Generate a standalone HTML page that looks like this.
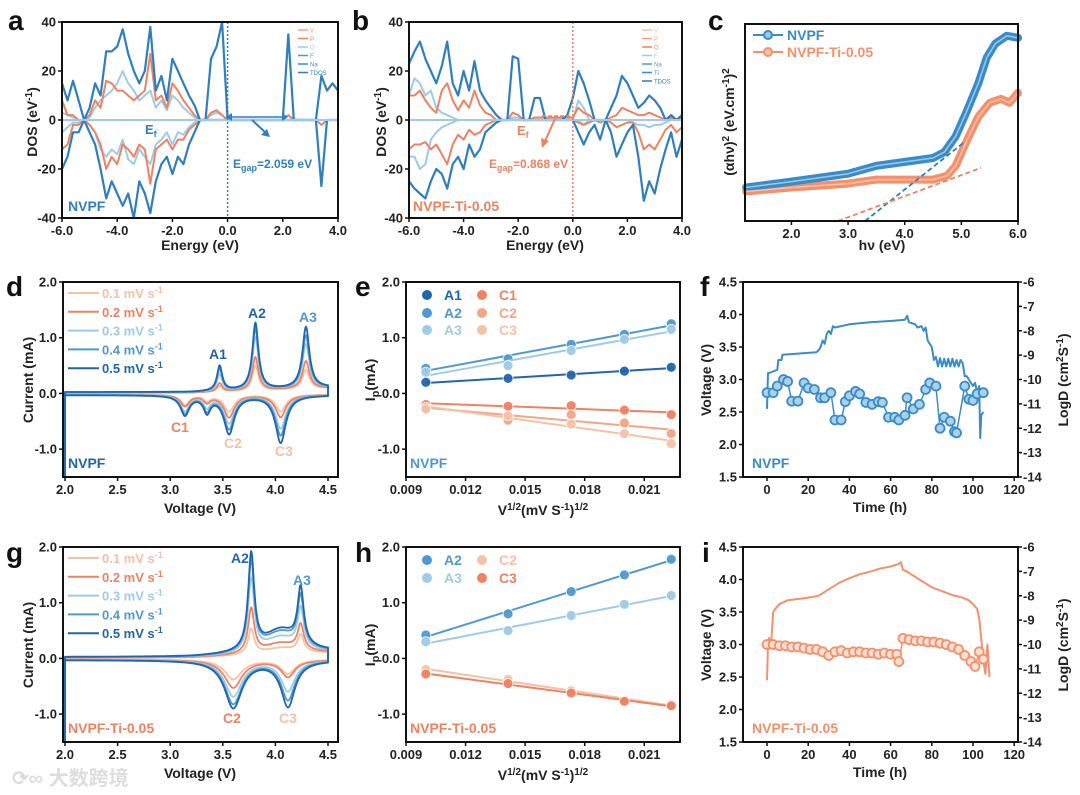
<!DOCTYPE html>
<html><head><meta charset="utf-8"><style>
html,body{margin:0;padding:0;background:#fff;}
svg{display:block;font-family:"Liberation Sans","Noto Sans CJK SC",sans-serif;}
.t{font-weight:bold;font-size:14px;fill:#222;}
.L{font-weight:bold;font-size:28px;fill:#111;}
</style></head><body>
<svg id="fig" width="1080" height="795" viewBox="0 0 1080 795">
<rect x="0" y="0" width="1080" height="795" fill="#fff"/>
<text class="L" x="8" y="30">a</text>
<text class="L" x="352" y="30">b</text>
<text class="L" x="708" y="30">c</text>
<text class="L" x="6" y="296">d</text>
<text class="L" x="355" y="296">e</text>
<text class="L" x="700" y="296">f</text>
<text class="L" x="6" y="562">g</text>
<text class="L" x="355" y="562">h</text>
<text class="L" x="702" y="562">i</text>
<text class="t" transform="translate(37,122) rotate(-90)" text-anchor="middle">DOS (eV<tspan dy="-5" font-size="10">-1</tspan><tspan dy="5">)</tspan></text>
<text class="t" transform="translate(386,122) rotate(-90)" text-anchor="middle">DOS (eV<tspan dy="-5" font-size="10">-1</tspan><tspan dy="5">)</tspan></text>
<text class="t" transform="translate(734,122) rotate(-90)" text-anchor="middle">(αhν)<tspan dy="-5" font-size="10">2</tspan><tspan dy="5"> (eV.cm</tspan><tspan dy="-5" font-size="10">-1</tspan><tspan dy="5">)</tspan><tspan dy="-5" font-size="10">2</tspan></text>
<text class="t" transform="translate(33,380) rotate(-90)" text-anchor="middle">Current (mA)</text>
<text class="t" transform="translate(375,380) rotate(-90)" text-anchor="middle">I<tspan dy="4" font-size="11">p</tspan><tspan dy="-4">(mA)</tspan></text>
<text class="t" transform="translate(711,380) rotate(-90)" text-anchor="middle">Voltage (V)</text>
<text class="t" transform="translate(1068,380) rotate(-90)" text-anchor="middle">LogD (cm<tspan dy="-5" font-size="10">2</tspan><tspan dy="5">S</tspan><tspan dy="-5" font-size="10">-1</tspan><tspan dy="5">)</tspan></text>
<text class="t" transform="translate(33,645) rotate(-90)" text-anchor="middle">Current (mA)</text>
<text class="t" transform="translate(375,645) rotate(-90)" text-anchor="middle">I<tspan dy="4" font-size="11">p</tspan><tspan dy="-4">(mA)</tspan></text>
<text class="t" transform="translate(711,645) rotate(-90)" text-anchor="middle">Voltage (V)</text>
<text class="t" transform="translate(1068,645) rotate(-90)" text-anchor="middle">LogD (cm<tspan dy="-5" font-size="10">2</tspan><tspan dy="5">S</tspan><tspan dy="-5" font-size="10">-1</tspan><tspan dy="5">)</tspan></text>
<text class="t" x="200" y="250" text-anchor="middle">Energy (eV)</text>
<text class="t" x="545" y="250" text-anchor="middle">Energy (eV)</text>
<text class="t" x="882" y="250" text-anchor="middle">hν (eV)</text>
<text class="t" x="200" y="513" text-anchor="middle">Voltage (V)</text>
<text class="t" x="543" y="515" text-anchor="middle">V<tspan dy="-5" font-size="10">1/2</tspan><tspan dy="5">(mV S</tspan><tspan dy="-5" font-size="10">-1</tspan><tspan dy="5">)</tspan><tspan dy="-5" font-size="10">1/2</tspan></text>
<text class="t" x="880" y="512" text-anchor="middle">Time (h)</text>
<text class="t" x="200" y="778" text-anchor="middle">Voltage (V)</text>
<text class="t" x="543" y="780" text-anchor="middle">V<tspan dy="-5" font-size="10">1/2</tspan><tspan dy="5">(mV S</tspan><tspan dy="-5" font-size="10">-1</tspan><tspan dy="5">)</tspan><tspan dy="-5" font-size="10">1/2</tspan></text>
<text class="t" x="880" y="777" text-anchor="middle">Time (h)</text>
<text x="12" y="785" font-size="20" fill="#ddd" font-weight="bold">⟳∞ 大数跨境</text>
</svg>
<script>
const dosE=[-6.0,-5.8,-5.6,-5.4,-5.2,-5.0,-4.8,-4.6,-4.4,-4.2,-4.0,-3.8,-3.6,-3.4,-3.2,-3.0,-2.8,-2.6,-2.4,-2.2,-2.0,-1.8,-1.6,-1.4,-1.2,-1.0,-0.8,-0.6,-0.4,-0.2,0.0,0.2,0.4,0.6,0.8,1.0,1.2,1.4,1.6,1.8,2.0,2.2,2.4,2.6,2.8,3.0,3.2,3.4,3.6,3.8,4.0];
const tdosUpA=[15,8,16,8,0,5,15,10,28,28,30,37,27,20,15,20,38,12,18,8,25,20,15,10,6,0,0,25,30,40,0,0,0,0,0,0,0,0,0,0,0,35,0,0,0,0,0,18,12,15,12];
const tdosDnA=[-20,-15,-5,-5,0,-5,-10,-20,-32,-25,-30,-35,-30,-40,-25,-30,-38,-25,-18,-15,-22,-15,-18,-10,-5,0,0,0,0,0,0,0,0,0,0,0,0,0,0,0,0,0,0,0,0,0,0,-27,0,0,0];
const oUpA=[8,2,2,0,0,2,8,5,16,15,12,12,10,8,10,12,27,8,10,5,15,12,8,5,2,0,0,3,4,2,0,0,0,0,0,0,0,0,0,0,0,2,0,0,0,0,0,0,0,0,0];
const oDnA=[-12,-10,-2,-2,0,-2,-5,-10,-20,-15,-18,-10,-12,-15,-10,-12,-26,-12,-10,-8,-12,-8,-8,-4,-2,0,0,0,0,0,0,0,0,0,0,0,0,0,0,0,0,0,0,0,0,0,0,-2,0,0,0];
const fUpA=[3,2,1,0,0,1,5,8,10,12,15,20,15,12,8,10,12,5,8,4,10,8,5,3,1,0,0,2,3,2,0,0,0,0,0,0,0,0,0,0,0,0,0,0,0,0,0,0,0,0,0];
const fDnA=[-5,-3,-1,-1,0,-2,-5,-12,-15,-12,-14,-8,-16,-18,-12,-15,-18,-10,-8,-5,-10,-5,-6,-3,-1,0,0,0,0,0,0,0,0,0,0,0,0,0,0,0,0,0,0,0,0,0,0,0,0,0,0];
const tdosUpB=[23,28,32,25,20,15,22,32,15,10,20,12,24,12,8,5,2,0,0,26,25,0,0,9,9,0,0,0,0,2,9,20,15,8,0,0,0,5,10,18,15,10,5,7,10,8,5,0,2,0,2];
const tdosDnB=[-25,-28,-30,-32,-25,-20,-22,-28,-18,-15,-20,-10,-15,-12,-5,-3,-1,0,0,0,0,0,0,0,0,0,0,0,0,0,0,-5,-10,-5,-2,-8,0,-5,-15,-10,-5,-2,-15,-33,-25,-30,-20,-12,-5,-15,-8];
const oUpB=[10,10,12,8,5,3,12,15,8,4,8,5,12,6,3,2,0,0,0,3,2,0,0,1,1,1,1,1,1,1,1,5,3,2,0,0,0,1,2,5,4,3,2,2,3,2,1,0,1,0,1];
const oDnB=[-12,-10,-10,-9,-12,-10,-14,-18,-10,-6,-8,-4,-6,-5,-2,-1,0,0,0,0,0,0,0,0,0,0,0,0,0,0,0,-1,-2,-1,0,-1,0,-1,-3,-2,-1,-1,-5,-12,-10,-12,-8,-4,-2,-5,-3];
const fUpB=[10,17,15,10,12,5,3,2,1,0,0,0,0,0,0,0,0,0,0,1,1,0,0,0,0,0,0,0,0,0,0,8,5,0,0,0,0,0,0,0,0,0,0,0,0,0,0,0,0,0,0];
const fDnB=[-15,-15,-20,-18,-8,-5,-3,-2,-1,0,0,0,0,0,0,0,0,0,0,0,0,0,0,0,0,0,0,0,0,0,0,0,-2,0,0,0,0,0,0,0,0,-1,-2,-2,-3,-2,-2,-1,0,0,0];
const dosXTicks=[-6,-4,-2,0,2,4];
const dosXLabels=["-6.0","-4.0","-2.0","0.0","2.0","4.0"];
const dosYTicks=[-40,-20,0,20,40];
const dosYLabels=["-40","-20","0","20","40"];

const uvE=[1.2,2.0,3.0,3.5,4.0,4.5,4.7,4.9,5.1,5.3,5.45,5.6,5.8,6.0];
const uvNVPF=[0.17,0.2,0.24,0.28,0.3,0.32,0.35,0.43,0.56,0.7,0.83,0.9,0.94,0.93];
const uvE2=[1.2,2.0,3.0,3.5,4.0,4.5,4.75,4.9,5.1,5.3,5.5,5.7,5.85,6.0];
const uvTi=[0.15,0.17,0.19,0.21,0.21,0.21,0.23,0.28,0.41,0.53,0.6,0.62,0.6,0.65];
const tangNVPF=[[3.3,0],[5.05,0.4]];
const tangTi=[[2.82,0],[5.35,0.27]];
const uvXTicks=[2,3,4,5,6];
const uvXLabels=["2.0","3.0","4.0","5.0","6.0"];

const rateLabels=["0.1","0.2","0.3","0.4","0.5"];
const dAnoP=[3.47,3.81,4.29];
const dAnoW=[0.03,0.035,0.04];
const dAnoH=[[0.1,0.15,0.3,0.4,0.45],[0.45,0.6,0.95,1.1,1.2],[0.35,0.5,0.8,0.95,1.1]];
const dCatP=[3.14,3.35,3.56,4.05];
const dCatW=[0.05,0.04,0.06,0.06];
const dCatH=[[-0.18,-0.2,-0.28,-0.32,-0.35],[-0.1,-0.12,-0.2,-0.25,-0.28],[-0.3,-0.4,-0.5,-0.6,-0.68],[-0.3,-0.4,-0.6,-0.72,-0.85]];
const gAnoP=[3.77,4.24,4.05];
const gAnoW=[0.035,0.035,0.2];
const gAnoH=[[0.45,0.8,1.3,1.6,1.72],[0.3,0.45,0.7,0.88,1.0],[0.12,0.2,0.3,0.38,0.42]];
const gCatP=[3.6,4.12];
const gCatW=[0.1,0.08];
const gCatH=[[-0.35,-0.5,-0.65,-0.78,-0.85],[-0.25,-0.3,-0.55,-0.7,-0.82]];
const cvXTicks=[2.0,2.5,3.0,3.5,4.0,4.5];
const cvXLabels=["2.0","2.5","3.0","3.5","4.0","4.5"];
const cvYTicks=[-1,0,1,2];
const cvYLabels=["-1.0","0.0","1.0","2.0"];

const sqrtV=[0.01,0.01414,0.01732,0.02,0.02236];
const eA1=[0.2,0.27,0.33,0.4,0.47];
const eA2=[0.45,0.62,0.88,1.06,1.25];
const eA3=[0.38,0.5,0.77,0.97,1.15];
const eC1=[-0.2,-0.23,-0.22,-0.3,-0.38];
const eC2=[-0.25,-0.48,-0.38,-0.53,-0.72];
const eC3=[-0.28,-0.4,-0.55,-0.72,-0.9];
const hA2=[0.42,0.8,1.2,1.5,1.78];
const hA3=[0.3,0.5,0.77,0.97,1.13];
const hC2=[-0.2,-0.38,-0.58,-0.75,-0.83];
const hC3=[-0.28,-0.45,-0.62,-0.77,-0.85];
const ipXTicks=[0.009,0.012,0.015,0.018,0.021];
const ipXLabels=["0.009","0.012","0.015","0.018","0.021"];

const fT=[0,0.5,1,5,5.5,7,7.5,24,25,26,27,28,29,30,31,32,33,40,50,60,67,68,69,72,73,75,76,77,78,79,80,81,82,83,84,85,86,87,88,89,90,91,92,93,94,95,96,97,100,101,102,103,103.5,104,105];
const fV=[2.55,3.1,3.1,3.15,3.3,3.3,3.38,3.42,3.45,3.5,3.6,3.55,3.7,3.75,3.7,3.82,3.8,3.85,3.88,3.9,3.92,3.98,3.88,3.85,3.8,3.82,3.75,3.8,3.6,3.55,3.5,3.3,3.35,3.2,3.33,3.2,3.32,3.2,3.32,3.2,3.32,3.2,3.3,3.2,3.3,3.25,3.05,3.05,2.9,2.95,2.8,2.9,2.1,2.45,2.5];
const fDt=[0,3,5,8,10,12,15,18,20,23,26,28,31,33,36,38,40,43,45,48,51,54,56,59,62,64,67,68,71,74,77,79,82,84,86,89,91,92,96,98,100,102,105];
const fDv=[-10.54,-10.54,-10.27,-10.0,-10.08,-10.89,-10.89,-10.14,-10.35,-10.41,-10.75,-10.75,-10.54,-11.66,-11.66,-10.91,-10.67,-10.49,-10.59,-10.94,-11.02,-10.91,-10.94,-11.55,-11.55,-11.66,-11.47,-10.75,-11.21,-11.02,-10.41,-10.14,-10.27,-12.0,-11.55,-11.71,-12.14,-12.19,-10.27,-10.81,-10.86,-10.59,-10.54];
const iT=[0,0.5,1,2,3,4,6,8,10,15,20,25,30,35,40,45,50,55,60,64,65,66,68,70,75,80,85,90,95,98,100,102,103,104,105,106,107,108];
const iV=[2.45,3.0,3.1,3.0,3.5,3.55,3.62,3.65,3.68,3.7,3.72,3.75,3.85,3.95,4.02,4.08,4.12,4.17,4.2,4.24,4.27,4.15,4.12,4.08,3.98,3.88,3.82,3.76,3.72,3.68,3.62,3.55,3.4,3.1,2.75,2.55,3.0,2.5];
const iDt=[0,3,6,9,12,15,18,21,24,27,30,33,36,39,42,45,48,51,54,57,60,63,64,66,69,72,75,78,81,84,87,90,93,96,99,101,103,105];
const iDv=[-10.0,-10.0,-10.05,-10.05,-10.1,-10.1,-10.15,-10.2,-10.2,-10.3,-10.45,-10.3,-10.25,-10.35,-10.3,-10.3,-10.35,-10.35,-10.4,-10.35,-10.4,-10.4,-10.7,-9.75,-9.8,-9.85,-9.85,-9.9,-9.9,-9.95,-10.0,-10.1,-10.2,-10.45,-10.7,-10.9,-10.3,-10.6];
const gittXTicks=[0,20,40,60,80,100,120];
const gittXLabels=["0","20","40","60","80","100","120"];
const gittVTicks=[1.5,2.0,2.5,3.0,3.5,4.0,4.5];
const gittVLabels=["1.5","2.0","2.5","3.0","3.5","4.0","4.5"];
const gittDTicks=[-14,-13,-12,-11,-10,-9,-8,-7,-6];
const gittDLabels=["-14","-13","-12","-11","-10","-9","-8","-7","-6"];

const NS='http://www.w3.org/2000/svg';
const svg=document.getElementById('fig');
const BLUE='#2f7fbf',DBLUE='#2166ac',LBLUE='#9fcbe6',MBLUE='#4e9ad0',OR='#ee8262',PEACH='#f6c1a6';
const RATEC=[PEACH,OR,LBLUE,MBLUE,DBLUE];
function mk(tag,attrs,name){
  const e=document.createElementNS(NS,tag);
  for(const k in attrs)e.setAttribute(k,attrs[k]);
  
  
  svg.appendChild(e);return e;
}
function lin(d0,d1,r0,r1){return v=>r0+(v-d0)*(r1-r0)/(d1-d0);}
function txt(x,y,s,o,name){
  const e=mk('text',Object.assign({x:x,y:y,'font-weight':'bold','font-size':13,fill:'#222'},o||{}),name);
  e.textContent=s;return e;
}
function poly(pts,color,w,name,extra){
  return mk('polyline',Object.assign({points:pts.map(p=>p[0].toFixed(1)+','+p[1].toFixed(1)).join(' '),fill:'none',stroke:color,'stroke-width':w,'stroke-linejoin':'round'},extra||{}),name);
}
function axes(id,box,xs,xt,xl,ys,yt,yl){
  mk('rect',{x:box[0],y:box[1],width:box[2]-box[0],height:box[3]-box[1],fill:'none',stroke:'#111','stroke-width':2},'plot-frame-'+id);
  xt.forEach((v,i)=>{const x=xs(v);
    mk('line',{x1:x,x2:x,y1:box[3],y2:box[3]+4,stroke:'#111','stroke-width':1.5},'x-tick-'+id);
    txt(x,box[3]+17,xl[i],{'text-anchor':'middle'},'x-tick-label-'+id);});
  if(yt)yt.forEach((v,i)=>{const y=ys(v);
    mk('line',{x1:box[0]-4,x2:box[0],y1:y,y2:y,stroke:'#111','stroke-width':1.5},'y-tick-'+id);
    txt(box[0]-6,y+4.5,yl[i],{'text-anchor':'end'},'y-tick-label-'+id);});
}

function dosPanel(id,box,up,dn,oU,oD,fU,fD,gapColor,legend){
  const xs=lin(-6,4,box[0],box[2]), ys=lin(-40,40,box[3],box[1]);
  const cl=s=>s.map((v,i)=>[xs(dosE[i]),Math.max(box[1],Math.min(box[3],ys(v)))]);
  poly(cl(fU),LBLUE,2,'f-pdos-up-'+id);poly(cl(fD),LBLUE,2,'f-pdos-down-'+id);
  poly(cl(oU),OR,2,'o-pdos-up-'+id);poly(cl(oD),OR,2,'o-pdos-down-'+id);
  poly(cl(up),BLUE,2.2,'tdos-up-'+id);poly(cl(dn),BLUE,2.2,'tdos-down-'+id);
  mk('line',{x1:box[0],x2:box[2],y1:ys(0),y2:ys(0),stroke:LBLUE,'stroke-width':2},'zero-line-'+id);
  mk('line',{x1:xs(0),x2:xs(0),y1:box[1],y2:box[3],stroke:gapColor,'stroke-width':1.5,'stroke-dasharray':'2,2'},'fermi-level-line-'+id);
  axes(id,box,xs,dosXTicks,dosXLabels,ys,dosYTicks,dosYLabels);
  const lc=[PEACH,'#f3a07e',OR,LBLUE,MBLUE,'#3d8ac5',BLUE];
  legend.forEach((s,i)=>{const y=box[1]+8+i*8.5;
    mk('line',{x1:box[2]-40,x2:box[2]-30,y1:y,y2:y,stroke:lc[i+(7-legend.length)],'stroke-width':1.5},'legend-line-'+id);
    txt(box[2]-28,y+2.5,s,{'font-size':6,'font-weight':'normal',fill:lc[i+(7-legend.length)]},'legend-label-'+id);});
  return xs;
}
dosPanel('a',[62,22,338,218],tdosUpA,tdosDnA,oUpA,oDnA,fUpA,fDnA,BLUE,['V','P','O','F','Na','TDOS']);
dosPanel('b',[409,22,682,218],tdosUpB,tdosDnB,oUpB,oDnB,fUpB,fDnB,OR,['V','P','O','F','Na','Ti','TDOS']);
mk('line',{x1:232,x2:282,y1:117,y2:117,stroke:BLUE,'stroke-width':1.5},'gap-arrow-a');
mk('path',{d:'M232,113 L232,121 L226,117Z M282,113 L282,121 L288,117Z',fill:BLUE},'gap-arrow-heads-a');
mk('path',{d:'M252,120 L266,133',stroke:BLUE,'stroke-width':2,fill:'none'},'pointer-arrow-a');
mk('path',{d:'M270,137 L261,135 L267,129Z',fill:BLUE},'pointer-arrow-head-a');
txt(145,134,'',{fill:BLUE,'font-size':13},'fermi-label-a').innerHTML='E<tspan dy="3" font-size="9">f</tspan>';
txt(233,168,'',{fill:BLUE,'font-size':12},'gap-label-a').innerHTML='E<tspan dy="3" font-size="9">gap</tspan><tspan dy="-3">=2.059 eV</tspan>';
txt(68,211,'NVPF',{fill:BLUE,'font-size':14},'sample-label-a');
mk('line',{x1:542,x2:570,y1:116,y2:116,stroke:OR,'stroke-width':1.5,'stroke-dasharray':'4,2'},'gap-arrow-b');
mk('path',{d:'M555,119 L545,141',stroke:OR,'stroke-width':2,fill:'none'},'pointer-arrow-b');
mk('path',{d:'M542,148 L541,138 L549,141Z',fill:OR},'pointer-arrow-head-b');
txt(517,135,'',{fill:OR,'font-size':13},'fermi-label-b').innerHTML='E<tspan dy="3" font-size="9">f</tspan>';
txt(489,168,'',{fill:OR,'font-size':12},'gap-label-b').innerHTML='E<tspan dy="3" font-size="9">gap</tspan><tspan dy="-3">=0.868 eV</tspan>';
txt(413,211,'NVPF-Ti-0.05',{fill:OR,'font-size':14},'sample-label-b');

{
  const box=[745,24,1018,221];
  const xs=lin(1.18,6,box[0],box[2]), ys=lin(0,1,box[3],box[1]);
  poly(uvE2.map((e,i)=>[xs(e),ys(uvTi[i])]),'#f4906c',8,'tauc-curve-nvpf-ti',{'stroke-linecap':'round'});
  poly(uvE.map((e,i)=>[xs(e),ys(uvNVPF[i])]),'#3a8cc6',8,'tauc-curve-nvpf',{'stroke-linecap':'round'});
  poly(uvE2.map((e,i)=>[xs(e),ys(uvTi[i])]),'#fbc2ab',1.5,'tauc-curve-nvpf-ti-highlight');
  poly(uvE.map((e,i)=>[xs(e),ys(uvNVPF[i])]),'#9cc9e8',1.5,'tauc-curve-nvpf-highlight');
  poly(tangNVPF.map(p=>[xs(p[0]),ys(p[1])]),'#2f7fbf',1.8,'tangent-nvpf',{'stroke-dasharray':'5,3'});
  poly(tangTi.map(p=>[xs(p[0]),ys(p[1])]),OR,1.8,'tangent-nvpf-ti',{'stroke-dasharray':'5,3'});
  axes('c',box,xs,uvXTicks,uvXLabels,ys,null,null);
  mk('line',{x1:753,x2:783,y1:35,y2:35,stroke:'#3a8cc6','stroke-width':2},'legend-line-nvpf');
  mk('circle',{cx:768,cy:35,r:4,fill:'#9cc9e8',stroke:'#3a8cc6','stroke-width':2},'legend-marker-nvpf');
  txt(787,40,'NVPF',{fill:'#3a8cc6','font-size':14},'legend-label-nvpf');
  mk('line',{x1:753,x2:783,y1:52,y2:52,stroke:'#f4906c','stroke-width':2},'legend-line-nvpf-ti');
  mk('circle',{cx:768,cy:52,r:4,fill:'#fbc2ab',stroke:'#f4906c','stroke-width':2},'legend-marker-nvpf-ti');
  txt(787,57,'NVPF-Ti-0.05',{fill:'#f4906c','font-size':14},'legend-label-nvpf-ti');
}

function cvPanel(id,box,aP,aW,aH,cP,cW,cH,sample,sampleColor){
  const xs=lin(2,4.5,65,328), ys=lin(-1.5,2,box[3],box[1]);
  const L=(v,p,w)=>1/(1+((v-p)/w)*((v-p)/w));
  for(let k=0;k<5;k++){
    const pts=[[xs(2.0),ys(-1.5)],[xs(2.0),ys(-0.02)]];
    for(let v=2.0;v<=4.5001;v+=0.005){
      let c=0.01+0.015*k/4+0.08*Math.max(0,(v-3.2)/1.3);
      aP.forEach((p,j)=>{c+=aH[j][k]*L(v,p,aW[j]);});
      pts.push([xs(v),ys(c)]);
    }
    for(let v=4.5;v>=1.9999;v-=0.005){
      let c=-0.02-0.01*k/4;
      cP.forEach((p,j)=>{c+=cH[j][k]*L(v,p,cW[j]);});
      pts.push([xs(v),ys(c)]);
    }
    poly(pts,RATEC[k],1.8,'cv-curve-'+rateLabels[k]+'-'+id);
  }
  axes(id,box,xs,cvXTicks,cvXLabels,ys,cvYTicks,cvYLabels);
  rateLabels.forEach((r,i)=>{const y=box[1]+11+i*18.8;
    mk('line',{x1:68,x2:99,y1:y,y2:y,stroke:RATEC[i],'stroke-width':2},'legend-line-'+id);
    txt(102,y+5,'',{fill:RATEC[i],'font-size':13},'legend-label-'+id).innerHTML=r+' mV s<tspan dy="-5" font-size="9">-1</tspan>';});
  txt(68,box[3]-9,sample,{fill:sampleColor,'font-size':14},'sample-label-'+id);
}
cvPanel('d',[63,282,338,477],dAnoP,dAnoW,dAnoH,dCatP,dCatW,dCatH,'NVPF',DBLUE);
cvPanel('g',[63,547,338,742],gAnoP,gAnoW,gAnoH,gCatP,gCatW,gCatH,'NVPF-Ti-0.05',OR);
[['A1',218,359,DBLUE],['A2',257,318,DBLUE],['A3',308,322,MBLUE],['C1',180,432,OR],['C2',233,448,PEACH],['C3',284,456,PEACH]].forEach(a=>txt(a[1],a[2],a[0],{fill:a[3],'font-size':14,'text-anchor':'middle'},'peak-label-'+a[0].toLowerCase()+'-d'));
[['A2',240,563,DBLUE],['A3',302,585,MBLUE],['C2',232,723,OR],['C3',288,723,PEACH]].forEach(a=>txt(a[1],a[2],a[0],{fill:a[3],'font-size':14,'text-anchor':'middle'},'peak-label-'+a[0].toLowerCase()+'-g'));

function ipPanel(id,box,series,cols,names,sample,sampleColor,legPos){
  const xs=lin(0.009,0.0228,box[0],box[2]), ys=lin(-1.5,2,box[3],box[1]);
  series.forEach((s,j)=>{
    const n=s.length,mx=sqrtV.reduce((a,b)=>a+b)/n,my=s.reduce((a,b)=>a+b)/n;
    let sxy=0,sxx=0;sqrtV.forEach((x,i)=>{sxy+=(x-mx)*(s[i]-my);sxx+=(x-mx)*(x-mx);});
    const b=sxy/sxx,a=my-b*mx;
    poly([[xs(sqrtV[0]),ys(a+b*sqrtV[0])],[xs(sqrtV[n-1]),ys(a+b*sqrtV[n-1])]],cols[j],2,'fit-line-'+names[j].toLowerCase()+'-'+id);
    s.forEach((v,i)=>mk('circle',{cx:xs(sqrtV[i]),cy:ys(v),r:5,fill:cols[j],stroke:'#fff','stroke-width':0.8,opacity:0.95},'point-'+names[j].toLowerCase()+'-'+id));
  });
  axes(id,box,xs,ipXTicks,ipXLabels,ys,cvYTicks,cvYLabels);
  names.forEach((nm,j)=>{const p=legPos[j];
    mk('circle',{cx:p[0],cy:p[1],r:5,fill:cols[j]},'legend-marker-'+nm.toLowerCase()+'-'+id);
    txt(p[0]+17,p[1]+5,nm,{fill:cols[j],'font-size':14},'legend-label-'+nm.toLowerCase()+'-'+id);});
  txt(410,box[3]-9,sample,{fill:sampleColor,'font-size':14},'sample-label-'+id);
}
ipPanel('e',[406,282,680,477],[eA1,eA2,eA3,eC1,eC2,eC3],[DBLUE,MBLUE,LBLUE,OR,'#f4a585',PEACH],['A1','A2','A3','C1','C2','C3'],'NVPF',MBLUE,
  [[427,295],[427,313],[427,330],[482,295],[482,313],[482,330]]);
ipPanel('h',[406,547,680,742],[hA2,hA3,hC2,hC3],[MBLUE,LBLUE,PEACH,OR],['A2','A3','C2','C3'],'NVPF-Ti-0.05',OR,
  [[427,560],[427,578],[482,560],[482,578]]);

function gittPanel(id,box,tv,vv,td,dv,color,light,sample){
  const xs=lin(0,100,767,973), ys=lin(1.5,4.5,box[3],box[1]), yr=lin(-14,-6,box[3],box[1]);
  poly(tv.map((t,i)=>[xs(t),ys(vv[i])]),color,2,'voltage-curve-'+id);
  poly(td.map((t,i)=>[xs(t),yr(dv[i])]),color,1.5,'logd-line-'+id);
  td.forEach((t,i)=>mk('circle',{cx:xs(t),cy:yr(dv[i]),r:4.5,fill:light,stroke:color,'stroke-width':1.8},'logd-point-'+id));
  axes(id,box,xs,gittXTicks,gittXLabels,ys,gittVTicks,gittVLabels);
  gittDTicks.forEach((v,i)=>{const y=yr(v);
    mk('line',{x1:box[2],x2:box[2]+4,y1:y,y2:y,stroke:'#111','stroke-width':1.5},'y-right-tick-'+id);
    txt(box[2]+5,y+4.5,gittDLabels[i],{},'y-right-tick-label-'+id);});
  txt(752,box[3]-9,sample,{fill:color,'font-size':14},'sample-label-'+id);
}
gittPanel('f',[743,282,1018,477],fT,fV,fDt,fDv,'#3a8cc6','#a9d0ec','NVPF');
gittPanel('i',[743,547,1018,742],iT,iV,iDt,iDv,'#f4906c','#fde0d4','NVPF-Ti-0.05');
</script>
</body></html>
